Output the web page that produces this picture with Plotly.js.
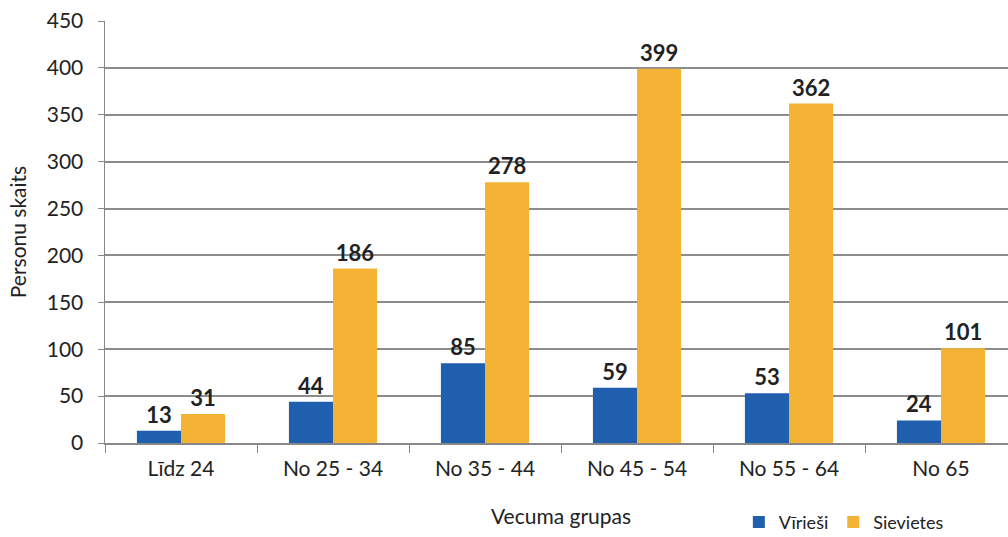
<!DOCTYPE html>
<html><head><meta charset="utf-8">
<script src="https://cdn.plot.ly/plotly-3.0.1.min.js"></script>
<style>html,body{margin:0;padding:0;overflow:hidden;background:#fff;width:1008px;height:537px}</style>
</head><body>
<div id="chart"></div>
<script>
const categories = ["Līdz 24", "No 25 - 34", "No 35 - 44", "No 45 - 54", "No 55 - 64", "No 65"];
const virieshi = [13, 44, 85, 59, 53, 24];
const sievietes = [31, 186, 278, 399, 362, 101];
const seriesNames = ["Vīrieši", "Sievietes"];

const labelFont = {family: "Lato, 'Noto Sans', sans-serif", size: 22, color: "#222", weight: "bold"};

const traces = [
  {type: "bar", name: seriesNames[0], x: categories, y: virieshi, marker: {color: "#1f5fae"},
   text: virieshi.map(String), textposition: "outside", textfont: labelFont, cliponaxis: false},
  {type: "bar", name: seriesNames[1], x: categories, y: sievietes, marker: {color: "#f5b335"},
   text: sievietes.map(String), textposition: "outside", textfont: labelFont, cliponaxis: false}
];

const layout = {
  width: 1020, height: 537,
  margin: {l: 105, r: 3, t: 21, b: 94, autoexpand: false},
  paper_bgcolor: "#fff", plot_bgcolor: "#fff",
  font: {family: "Lato, 'Noto Sans', sans-serif", size: 21, color: "#222"},
  barmode: "group", bargap: 0.42, bargroupgap: 0,
  showlegend: true,
  legend: {orientation: "h", x: 0.695, y: -0.188, xanchor: "left", yanchor: "middle",
           font: {size: 18, color: "#222"}, itemwidth: 30, traceorder: "normal"},
  xaxis: {
    title: {text: "Vecuma grupas", font: {size: 21, color: "#222"}, standoff: 30},
    showline: true, linecolor: "#888", linewidth: 1.5,
    ticks: "outside", tickson: "boundaries", ticklen: 8, tickcolor: "#888",
    ticklabelstandoff: 6,
    tickfont: {size: 21, color: "#222"}
  },
  yaxis: {
    title: {text: "Personu skaits", font: {size: 21, color: "#222"}, standoff: 14},
    range: [0, 450], dtick: 50, showgrid: true, gridcolor: "#8c8c8c", gridwidth: 2,
    showline: true, linecolor: "#888", linewidth: 1.5,
    ticks: "outside", ticklen: 6, tickcolor: "#888", ticklabelstandoff: 10,
    tickfont: {size: 21, color: "#222"}, zeroline: false
  }
};

Plotly.newPlot("chart", traces, layout, {displayModeBar: false, staticPlot: true});
</script>
</body></html>
